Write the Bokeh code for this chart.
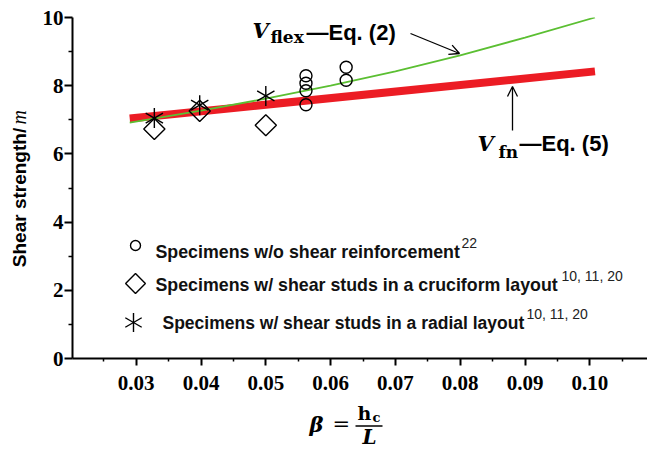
import numpy as np
from bokeh.plotting import figure
from bokeh.layouts import row, column
from bokeh.models import Range1d, FixedTicker, Label, Arrow, OpenHead, NumeralTickFormatter
from bokeh.embed import file_html
from bokeh.resources import INLINE

# ---------------- data ----------------
beta_flex = [0.029, 0.040, 0.050, 0.060, 0.070, 0.080, 0.090, 0.1008]
v_flex = [6.92, 7.27, 7.62, 8.00, 8.42, 8.89, 9.41, 10.0]

beta_fn = [0.029, 0.1008]
v_fn = [7.04, 8.42]

beta_no_shear = [0.0562, 0.0562, 0.0562, 0.0562, 0.0624, 0.0624]
v_no_shear = [8.29, 8.07, 7.85, 7.44, 8.54, 8.16]

beta_cruciform = [0.0328, 0.0398, 0.0500]
v_cruciform = [6.73, 7.26, 6.84]

beta_radial = [0.0328, 0.0398, 0.0500]
v_radial = [7.05, 7.43, 7.70]

x_ticks = [0.03, 0.04, 0.05, 0.06, 0.07, 0.08, 0.09, 0.10]
x_minor = [0.025, 0.035, 0.045, 0.055, 0.065, 0.075, 0.085, 0.095, 0.105]
y_ticks = [0, 2, 4, 6, 8, 10]
y_minor = [1, 3, 5, 7, 9]

legend_texts = ["Specimens w/o shear reinforcement",
                "Specimens w/ shear studs in a cruciform layout",
                "Specimens w/ shear studs in a radial layout"]
legend_refs = ["22", "10, 11, 20", "10, 11, 20"]

# ---------------- page-pixel -> data helpers (for annotations) ----------------
X0, PX0, PPX = 0.03, 135.7, 6480.0
def dx(px):
    return X0 + (px - PX0) / PPX
def dy(py):
    return (358.0 - py) / 34.1

LEFT_W = 32
MAIN_H = 400
TOTAL_W, TOTAL_H = 647, 453
FRAME_L, FRAME_T, FRAME_B = 72, 17, 358
BL = 0.35  # label anchor sits ~0.35em above the visual baseline


def lab(fig, x, y_base, text, font, style, size_px, conv=None, rotated=False, **kw):
    """Place a text so that its baseline lies at page pixel y_base (or x for rotated)."""
    if rotated:
        x = x - BL * size_px
    else:
        y_base = y_base - BL * size_px
    if conv is not None:
        x, y_base = conv[0](x), conv[1](y_base)
    fig.add_layout(Label(x=x, y=y_base, text=text, text_align="left",
                         text_baseline="alphabetic", text_font=font,
                         text_font_style=style, text_font_size=f"{size_px}px",
                         text_color=kw.pop("text_color", "black"), **kw))


# ---------------- main plot ----------------
p = figure(width=TOTAL_W - LEFT_W, height=MAIN_H,
           x_range=Range1d(dx(FRAME_L), dx(TOTAL_W)),
           y_range=Range1d(0, 10),
           min_border_left=FRAME_L - LEFT_W, min_border_right=0, min_border_top=FRAME_T,
           min_border_bottom=MAIN_H - FRAME_B,
           output_backend="svg", toolbar_location=None)
p.outline_line_color = None
p.xgrid.visible = False
p.ygrid.visible = False

for ax in (p.xaxis[0], p.yaxis[0]):
    ax.axis_line_width = 2
    ax.axis_line_color = "black"
    ax.major_tick_line_width = 2
    ax.minor_tick_line_width = 1.5
    ax.major_tick_in = 0
    ax.minor_tick_in = 0
    ax.major_label_text_font = "Liberation Serif"
    ax.major_label_text_font_style = "bold"
    ax.major_label_text_font_size = "21px"
    ax.major_label_text_color = "black"

p.xaxis.ticker = FixedTicker(ticks=x_ticks, minor_ticks=x_minor)
p.xaxis.formatter = NumeralTickFormatter(format="0.00")
p.xaxis.major_tick_out = 7
p.xaxis.minor_tick_out = 3
p.xaxis.major_label_standoff = 10

p.yaxis.ticker = FixedTicker(ticks=y_ticks, minor_ticks=y_minor)
p.yaxis.major_tick_out = 8
p.yaxis.minor_tick_out = 4
p.yaxis.major_label_standoff = 1

# lines
p.line(beta_fn, v_fn, line_width=8, line_color="#ec1c24")
p.line(beta_flex, v_flex, line_width=1.8, line_color="#5bbf32")

# markers
p.scatter(beta_no_shear, v_no_shear, marker="circle", size=12, fill_color=None,
          line_color="black", line_width=1.4)
p.scatter(beta_cruciform, v_cruciform, marker="square", angle=np.pi / 4, size=15,
          fill_color=None, line_color="black", line_width=1.4)
for ang in (np.pi / 2, np.pi / 6, -np.pi / 6):
    p.scatter(beta_radial, v_radial, marker="dash", angle=ang, size=20,
              line_color="black", line_width=1.4)

# ---------------- legend (manual) ----------------
leg_marker_pos = [(135, 245), (135, 283), (133, 322)]
leg_text_pos = [(155, 258), (155, 291), (162, 329)]
leg_text_size = [17.8, 17.8, 17.5]
leg_ref_x = [461, 561, 526]

mx, my = leg_marker_pos[0]
p.scatter([dx(mx)], [dy(my)], marker="circle", size=10, fill_color=None,
          line_color="black", line_width=1.4)
mx, my = leg_marker_pos[1]
p.scatter([dx(mx)], [dy(my)], marker="square", angle=np.pi / 4, size=14, fill_color=None,
          line_color="black", line_width=1.4)
mx, my = leg_marker_pos[2]
for ang in (np.pi / 2, np.pi / 6, -np.pi / 6):
    p.scatter([dx(mx)], [dy(my)], marker="dash", angle=ang, size=19,
              line_color="black", line_width=1.4)

C = (dx, dy)
for (tx, ty), txt, fs, rx, ref in zip(leg_text_pos, legend_texts, leg_text_size,
                                      leg_ref_x, legend_refs):
    lab(p, tx, ty, txt, "Liberation Sans", "bold", fs, conv=C, text_color="#111111")
    lab(p, rx, ty - 11, ref, "Liberation Sans", "normal", 14, conv=C, text_color="#222222")

# ---------------- curve annotations ----------------
lab(p, 252, 37.5, "V", "DejaVu Serif", "bold italic", 21, conv=C)
lab(p, 270, 42.5, "flex", "DejaVu Serif", "bold", 17, conv=C)
lab(p, 306, 40, "\u2014Eq. (2)", "Liberation Sans", "bold", 22, conv=C)

lab(p, 477, 150.5, "V", "DejaVu Serif", "bold italic", 21, conv=C)
lab(p, 498, 157, "fn", "DejaVu Serif", "bold", 17, conv=C)
lab(p, 519, 151, "\u2014Eq. (5)", "Liberation Sans", "bold", 22, conv=C)

p.add_layout(Arrow(end=OpenHead(size=10, line_width=1.3, line_color="black"),
                   x_start=dx(410), y_start=dy(33), x_end=dx(459), y_end=dy(53),
                   line_width=1.3, line_color="black"))
p.add_layout(Arrow(end=OpenHead(size=10, line_width=1.3, line_color="black"),
                   x_start=dx(512), y_start=dy(130), x_end=dx(512), y_end=dy(86),
                   line_width=1.3, line_color="black"))

# ---------------- y-axis title strip (page-pixel coordinates) ----------------
pl = figure(width=LEFT_W, height=TOTAL_H, x_range=Range1d(0, LEFT_W),
            y_range=Range1d(FRAME_B, FRAME_T), x_axis_location=None, y_axis_location=None,
            min_border_left=0, min_border_right=0, min_border_top=FRAME_T,
            min_border_bottom=TOTAL_H - FRAME_B,
            output_backend="svg", toolbar_location=None)
pl.outline_line_color = None
pl.grid.visible = False
lab(pl, 25.5, 266.7, "Shear strength/", "Liberation Sans", "bold", 19, rotated=True,
    angle=np.pi / 2)
lab(pl, 25.5, 124, "m", "Liberation Serif", "italic", 20, rotated=True, angle=np.pi / 2)

# ---------------- x-axis title strip (page-pixel coordinates) ----------------
pb = figure(width=TOTAL_W - LEFT_W, height=TOTAL_H - MAIN_H,
            x_range=Range1d(FRAME_L, TOTAL_W), y_range=Range1d(TOTAL_H, MAIN_H),
            x_axis_location=None, y_axis_location=None,
            min_border_left=FRAME_L - LEFT_W, min_border_right=0,
            min_border_top=0, min_border_bottom=0,
            output_backend="svg", toolbar_location=None)
pb.outline_line_color = None
pb.grid.visible = False
lab(pb, 309, 431, "\u03b2", "DejaVu Serif", "bold italic", 21)
lab(pb, 332, 431, "=", "DejaVu Serif", "normal", 21)
lab(pb, 357, 419, "h", "DejaVu Serif", "bold", 19)
lab(pb, 372, 422, "c", "DejaVu Serif", "bold", 13)
pb.add_layout(Arrow(start=None, end=None, x_start=355, y_start=425.5,
                    x_end=382, y_end=425.5, line_width=1.5, line_color="black"))
lab(pb, 362, 443, "L", "DejaVu Serif", "bold italic", 20)

layout = row(pl, column(p, pb, spacing=0), spacing=0)
open("out.html", "w").write(file_html(layout, INLINE))
